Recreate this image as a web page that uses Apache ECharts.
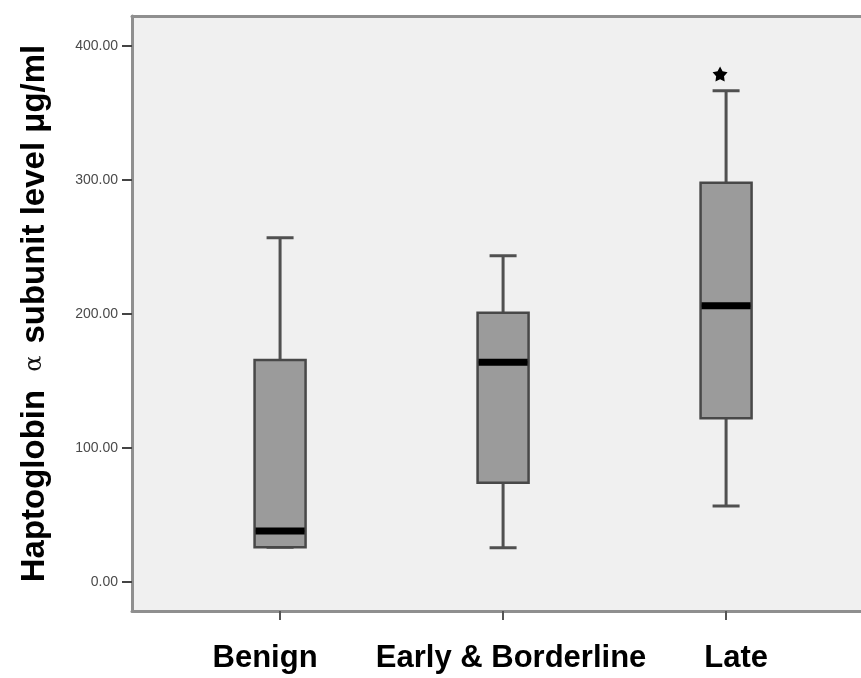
<!DOCTYPE html>
<html>
<head>
<meta charset="utf-8">
<script src="https://cdn.jsdelivr.net/npm/echarts@6/dist/echarts.min.js"></script>
<style>
  html, body { margin: 0; padding: 0; background: #ffffff; }
  #chart { width: 861px; height: 678px; }
</style>
</head>
<body>
<div id="chart"></div>
<script>
// Haptoglobin alpha subunit level by group (µg/ml)
const categories  = ['Benign', 'Early & Borderline', 'Late'];
const whiskerLow  = [25.7, 25.4, 56.5];
const q1          = [25.7, 73.9, 121.9];
const medians     = [37.8, 163.7, 206.0];
const q3          = [165.4, 200.7, 297.8];
const whiskerHigh = [256.7, 243.3, 366.4];
const outliers    = [[2, 378.9]];
const yTicks      = [0, 100, 200, 300, 400];
const xTicks      = [0, 1, 2];

// whisker lines + caps (box collapsed onto the median, hidden under the box)
const whiskerData = categories.map((c, i) =>
  [i, whiskerLow[i], medians[i], medians[i], medians[i], whiskerHigh[i]]);
// interquartile boxes
const boxData = categories.map((c, i) =>
  [i, q1[i], q1[i], medians[i], q3[i], q3[i]]);
// thick median bars
const medianData = categories.map((c, i) =>
  [i, medians[i], medians[i], medians[i], medians[i], medians[i]]);

const labelShift = ['l', 'm', 'r'];
const X_MIN = -0.664, X_MAX = 2.605;
const frameLine = { show: true, onZero: false, lineStyle: { color: '#8f8f8f', width: 3 } };

// each boxplot layer sits on its own (identical) x axis so the layers overlap instead of dodging
function layerX(position, line) {
  return {
    type: 'value', min: X_MIN, max: X_MAX, position: position,
    splitLine: { show: false },
    axisLine: line,
    axisTick: { show: false },
    axisLabel: { show: false }
  };
}

const chart = echarts.init(document.getElementById('chart'), null, { renderer: 'canvas' });
chart.setOption({
  animation: false,
  backgroundColor: '#ffffff',
  grid: {
    left: 132, top: 16, bottom: 67, right: 0,
    show: true,
    backgroundColor: '#f0f0f0',
    borderWidth: 0
  },
  xAxis: [
    {
      type: 'value',
      min: X_MIN,
      max: X_MAX,
      position: 'bottom',
      splitLine: { show: false },
      axisLine: frameLine,
      axisTick: {
        show: true, customValues: xTicks, length: 9, inside: false,
        lineStyle: { color: '#555555', width: 2 }
      },
      axisLabel: {
        customValues: xTicks,
        margin: 32,
        formatter: v => '{' + labelShift[v] + '|' + categories[v] + '}',
        rich: {
          l: { fontFamily: 'Liberation Sans', fontWeight: 'bold', fontSize: 31, color: '#000', padding: [0, 30, 0, 0] },
          m: { fontFamily: 'Liberation Sans', fontWeight: 'bold', fontSize: 31, color: '#000', padding: [0, 0, 0, 16] },
          r: { fontFamily: 'Liberation Sans', fontWeight: 'bold', fontSize: 31, color: '#000', padding: [0, 0, 0, 20] }
        }
      }
    },
    layerX('top', frameLine),
    layerX('top', { show: false, onZero: false })
  ],
  yAxis: {
    type: 'value',
    min: -21.9,
    max: 422.2,
    splitLine: { show: false },
    axisLine: frameLine,
    axisTick: {
      show: true, customValues: yTicks, length: 10, inside: false,
      lineStyle: { color: '#444444', width: 2 }
    },
    axisLabel: {
      customValues: yTicks,
      margin: 14,
      fontFamily: 'Liberation Sans',
      fontSize: 14,
      color: '#4a4a4a',
      formatter: v => v.toFixed(2)
    },
    name: '{t|Haptoglobin}{a|α}{t|subunit level μg/ml}',
    nameLocation: 'middle',
    nameRotate: 90,
    nameGap: 81,
    nameTextStyle: {
      rich: {
        t: { fontFamily: 'Liberation Sans', fontWeight: 'bold', fontSize: 33, color: '#000' },
        a: { fontFamily: 'DejaVu Serif', fontWeight: 'normal', fontSize: 24, color: '#111', padding: [0, 12, 0, 18] }
      }
    }
  },
  series: [
    {
      type: 'boxplot',
      xAxisIndex: 0,
      data: whiskerData,
      boxWidth: [27, 27],
      itemStyle: { color: '#9a9a9a', borderColor: '#505050', borderWidth: 3 },
      silent: true
    },
    {
      type: 'boxplot',
      xAxisIndex: 1,
      data: boxData,
      boxWidth: [51, 51],
      itemStyle: { color: '#9b9b9b', borderColor: '#484848', borderWidth: 2.5 },
      silent: true
    },
    {
      type: 'boxplot',
      xAxisIndex: 2,
      data: medianData,
      boxWidth: [49, 49],
      itemStyle: { color: '#000000', borderColor: '#000000', borderWidth: 7 },
      silent: true
    },
    {
      type: 'scatter',
      xAxisIndex: 0,
      data: outliers,
      symbol: 'path://M0,-10 L3.2,-4.2 L9.51,-3.09 L5,1.7 L5.88,8.09 L0,5.5 L-5.88,8.09 L-5,1.7 L-9.51,-3.09 L-3.2,-4.2 Z',
      symbolSize: 15,
      symbolOffset: [-6, 0],
      itemStyle: { color: '#000000', opacity: 1 },
      silent: true
    }
  ]
});
</script>
</body>
</html>
